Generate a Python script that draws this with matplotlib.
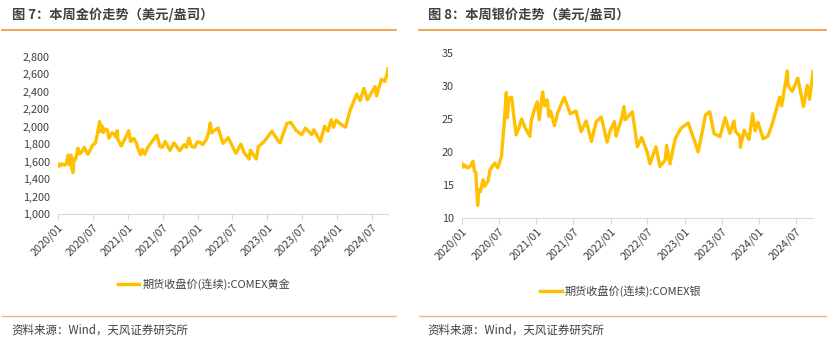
import matplotlib
matplotlib.use("Agg")
import matplotlib.pyplot as plt
import matplotlib.dates as mdates
from matplotlib.lines import Line2D
import pandas as pd

plt.rcParams["font.family"] = ["Noto Sans CJK SC", "DejaVu Sans"]

# COMEX gold, USD/oz
gold_dates = [
    "2020-01-02", "2020-01-08", "2020-01-15", "2020-01-24", "2020-02-05", "2020-02-14",
    "2020-02-24", "2020-02-28", "2020-03-09", "2020-03-13", "2020-03-16", "2020-03-19",
    "2020-03-25", "2020-04-03", "2020-04-14", "2020-04-21", "2020-04-30", "2020-05-18",
    "2020-05-28", "2020-06-05", "2020-06-18", "2020-06-30", "2020-07-15", "2020-07-27",
    "2020-08-06", "2020-08-11", "2020-08-18", "2020-08-26", "2020-09-01", "2020-09-15",
    "2020-09-23", "2020-10-09", "2020-10-22", "2020-10-30", "2020-11-06", "2020-11-09",
    "2020-11-27", "2020-12-16", "2021-01-05", "2021-01-15", "2021-02-01", "2021-02-12",
    "2021-02-26", "2021-03-08", "2021-03-18", "2021-03-30", "2021-04-15", "2021-05-10",
    "2021-06-01", "2021-06-17", "2021-06-29", "2021-07-15", "2021-08-09", "2021-08-30",
    "2021-09-29", "2021-10-22", "2021-11-03", "2021-11-16", "2021-11-30", "2021-12-15",
    "2021-12-31", "2022-01-14", "2022-01-27", "2022-02-15", "2022-02-24", "2022-03-08",
    "2022-03-15", "2022-03-29", "2022-04-18", "2022-05-13", "2022-06-10", "2022-07-20",
    "2022-08-15", "2022-09-01", "2022-09-27", "2022-10-04", "2022-11-03", "2022-11-15",
    "2022-12-13", "2023-01-25", "2023-02-28", "2023-03-08", "2023-04-13", "2023-05-04",
    "2023-05-30", "2023-06-29", "2023-07-19", "2023-08-21", "2023-09-01", "2023-10-05",
    "2023-10-27", "2023-11-13", "2023-12-01", "2023-12-13", "2023-12-27", "2024-01-19",
    "2024-02-14", "2024-03-08", "2024-04-12", "2024-04-30", "2024-05-20", "2024-06-07",
    "2024-07-17", "2024-07-25", "2024-08-20", "2024-09-06", "2024-09-18", "2024-09-23",
]
gold_vals = [
    1545, 1575, 1555, 1575, 1560, 1585,
    1675, 1565, 1675, 1520, 1565, 1475,
    1630, 1630, 1755, 1690, 1700, 1765,
    1715, 1685, 1735, 1790, 1815, 1940,
    2060, 1945, 2010, 1935, 1975, 1965,
    1870, 1930, 1915, 1880, 1955, 1855,
    1780, 1860, 1955, 1830, 1865, 1825,
    1730, 1680, 1740, 1685, 1765, 1840,
    1905, 1775, 1765, 1830, 1730, 1815,
    1725, 1795, 1765, 1870, 1775, 1765,
    1828, 1820, 1795, 1855, 1905, 2043,
    1930, 1960, 1985, 1810, 1875, 1695,
    1800, 1705, 1630, 1730, 1630, 1775,
    1825, 1950, 1830, 1815, 2040, 2050,
    1960, 1908, 1985, 1910, 1966, 1830,
    2005, 1950, 2080, 1995, 2075, 2030,
    1995, 2185, 2375, 2300, 2440, 2310,
    2460, 2355, 2545, 2520, 2600, 2665,
]

# COMEX silver, USD/oz
silver_dates = [
    "2020-01-02", "2020-01-08", "2020-01-15", "2020-01-28", "2020-02-10", "2020-02-24",
    "2020-03-02", "2020-03-09", "2020-03-18", "2020-03-24", "2020-04-01", "2020-04-14",
    "2020-04-21", "2020-05-08", "2020-05-18", "2020-06-10", "2020-06-25", "2020-07-13",
    "2020-07-27", "2020-08-06", "2020-08-11", "2020-08-18", "2020-09-01", "2020-09-23",
    "2020-10-06", "2020-10-20", "2020-11-09", "2020-11-30", "2020-12-07", "2020-12-21",
    "2021-01-05", "2021-01-15", "2021-02-01", "2021-02-10", "2021-02-23", "2021-03-04",
    "2021-03-12", "2021-03-31", "2021-04-15", "2021-05-18", "2021-06-17", "2021-07-15",
    "2021-08-09", "2021-09-03", "2021-09-29", "2021-10-22", "2021-11-16", "2021-12-15",
    "2021-12-31", "2022-01-20", "2022-01-28", "2022-02-24", "2022-03-08", "2022-03-15",
    "2022-04-18", "2022-05-13", "2022-06-03", "2022-06-30", "2022-07-14", "2022-08-12",
    "2022-09-01", "2022-09-27", "2022-10-04", "2022-10-20", "2022-11-15", "2022-12-13",
    "2023-01-18", "2023-02-28", "2023-03-08", "2023-04-13", "2023-05-04", "2023-05-25",
    "2023-06-23", "2023-07-19", "2023-08-04", "2023-08-11", "2023-08-31", "2023-09-08",
    "2023-09-29", "2023-10-02", "2023-10-20", "2023-11-13", "2023-12-01", "2023-12-13",
    "2023-12-27", "2024-01-22", "2024-02-14", "2024-03-08", "2024-04-12", "2024-04-22",
    "2024-05-20", "2024-05-23", "2024-06-07", "2024-06-13", "2024-07-10", "2024-08-07",
    "2024-08-26", "2024-09-06", "2024-09-23",
]
silver_vals = [
    18.2, 17.7, 18.0, 17.6, 17.8, 18.6,
    17.1, 16.9, 11.9, 14.3, 14.0, 15.8,
    14.8, 15.6, 17.3, 18.3, 17.6, 19.3,
    24.5, 29.0, 25.2, 28.1, 28.3, 22.6,
    23.6, 25.0, 23.5, 22.4, 24.8, 26.3,
    27.6, 24.9, 29.1, 27.0, 27.9, 25.4,
    26.2, 24.0, 25.9, 28.3, 25.8, 26.2,
    23.1, 24.7, 21.6, 24.6, 25.3, 21.5,
    23.3, 24.6, 22.4, 25.0, 26.9, 24.9,
    26.1, 20.8, 22.2, 20.0, 18.2, 20.8,
    17.8, 18.8, 21.0, 18.2, 22.0, 23.6,
    24.4, 20.8, 20.0, 25.6, 26.1, 22.8,
    22.3, 25.2, 23.5, 22.8, 24.7, 23.1,
    22.4, 20.7, 23.3, 21.9, 25.8, 23.2,
    24.5, 22.0, 22.4, 24.4, 28.3, 27.0,
    32.3, 30.1, 29.4, 29.2, 31.2, 26.9,
    30.1, 28.0, 32.2,
]

tick_dates = pd.date_range("2020-01-01", "2024-07-01", freq="6MS")
line_color = "#FFC000"
text_color = "#404040"
top_rule = "#F39435"
bottom_rule = "#F7B27C"

fig = plt.figure(figsize=(8.3, 3.42), dpi=100)


def px(x, y):
    return x / 830, 1 - y / 342


def make_panel(rect, dates, vals, ylim, yticks, ylabels, legend_text, legend_xy):
    ax = fig.add_axes(rect)
    d = pd.to_datetime(dates)
    ax.plot(d, vals, color=line_color, linewidth=2.4, solid_joinstyle="round")
    ax.set_xlim(d[0], d[-1])
    ax.set_ylim(*ylim)
    ax.set_yticks(yticks)
    ax.set_yticklabels(ylabels)
    ax.set_xticks(tick_dates)
    ax.xaxis.set_major_formatter(mdates.DateFormatter("%Y/%m"))
    for s in ["top", "right", "left"]:
        ax.spines[s].set_visible(False)
    ax.spines["bottom"].set_color("#D9D9D9")
    ax.tick_params(axis="y", length=0, labelsize=7.8, labelcolor=text_color, pad=6)
    ax.tick_params(axis="x", length=4, color="#D9D9D9", labelsize=7.8,
                   labelcolor=text_color, pad=2)
    for lab in ax.get_xticklabels():
        lab.set_rotation(45)
        lab.set_ha("right")
        lab.set_rotation_mode("anchor")
    fig.legend(handles=[Line2D([], [], color=line_color, linewidth=2.5)],
               labels=[legend_text], loc="center", bbox_to_anchor=legend_xy,
               frameon=False, fontsize=8, handlelength=1.9, handletextpad=0.3,
               labelcolor=text_color)
    return ax


l, b = px(58, 214)
r, t = px(388, 57)
make_panel([l, b, r - l, t - b], gold_dates, gold_vals, (1000, 2800),
           list(range(1000, 2801, 200)),
           ["{:,}".format(v) for v in range(1000, 2801, 200)],
           "期货收盘价(连续):COMEX黄金", px(204, 284))

l, b = px(462, 218)
r, t = px(813, 53)
make_panel([l, b, r - l, t - b], silver_dates, silver_vals, (10, 35),
           [10, 15, 20, 25, 30, 35], ["10", "15", "20", "25", "30", "35"],
           "期货收盘价(连续):COMEX银", px(621, 291))

# titles, rules and source notes
fig.text(*px(12, 15), "图 7：本周金价走势（美元/盎司）", fontsize=9.5, fontweight="bold",
         color=text_color, va="center")
fig.text(*px(428, 15), "图 8：本周银价走势（美元/盎司）", fontsize=9.5, fontweight="bold",
         color=text_color, va="center")
for x0, x1 in [(2, 396), (419, 826)]:
    fig.add_artist(Line2D([x0 / 830, x1 / 830], [1 - 30 / 342] * 2, color=top_rule, linewidth=1.2))
    fig.add_artist(Line2D([x0 / 830, x1 / 830], [1 - 316 / 342] * 2, color=bottom_rule, linewidth=1.0))
fig.text(*px(11, 330), "资料来源：Wind，天风证券研究所", fontsize=8.3, color=text_color, va="center")
fig.text(*px(427, 330), "资料来源：Wind，天风证券研究所", fontsize=8.3, color=text_color, va="center")

fig.savefig("out.png", dpi=100, facecolor="white")
